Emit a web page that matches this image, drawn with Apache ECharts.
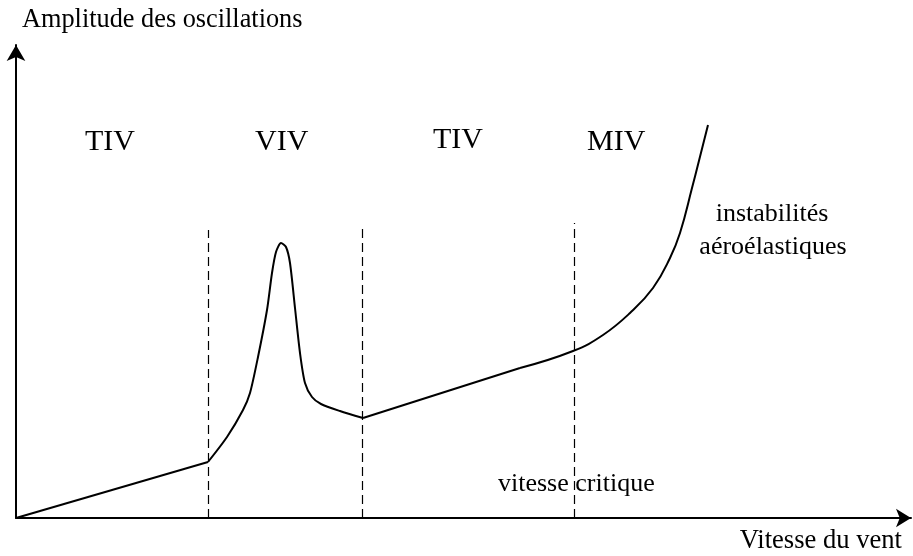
<!DOCTYPE html>
<html>
<head>
<meta charset="utf-8">
<script src="https://cdn.jsdelivr.net/npm/echarts@6/dist/echarts.min.js"></script>
<style>
    html, body { margin: 0; padding: 0; background: #fff; }
    #chart { width: 913px; height: 556px; }
</style>
</head>
<body>
<div id="chart"></div>
<script>
    // courbe (unites arbitraires)
    var segTIV1 = [[0, 0], [192, 56]];
    var segVIV = [[192, 56], [211, 81], [227, 108], [234, 125], [242, 161], [251, 208], [256, 245],
        [260, 266], [265, 275], [270, 271], [274, 255], [279, 210], [284, 165], [289, 135],
        [296, 121], [305, 114], [324, 107], [347, 100]];
    var segTIV2 = [[347, 100], [504, 150]];
    var segMIV = [[504, 150], [557, 167], [587, 183], [614, 205], [637, 230], [654, 260],
        [664, 285], [676, 330], [692, 393]];
    // lignes verticales pointillees
    var dashX = [192, 346, 558];
    var dashTop = [288, 290, 295];

    var font = 'Liberation Serif';
    var chart = echarts.init(document.getElementById('chart'));

    var lines = [];
    for (var i = 0; i < dashX.length; i++) {
        lines.push([{coord: [dashX[i], 0]}, {coord: [dashX[i], dashTop[i]]}]);
    }

    function seg(data, smooth) {
        return {
            type: 'line',
            data: data,
            smooth: smooth,
            symbol: 'none',
            lineStyle: {color: '#000', width: 2}
        };
    }

    var series = [seg(segTIV1, false), seg(segVIV, 0.25), seg(segTIV2, false), seg(segMIV, 0.45)];
    series[0].markLine = {
        silent: true,
        symbol: 'none',
        label: {show: false},
        lineStyle: {color: '#000', width: 1.2, type: [9, 5]},
        data: lines
    };

    function txt(x, y, s, size, align) {
        return {
            type: 'text', x: x, y: y,
            style: {
                text: s, fill: '#000', font: size + 'px "' + font + '"',
                textAlign: align || 'left', textVerticalAlign: 'bottom'
            }
        };
    }

    var option = {
        animation: false,
        grid: {left: 16, right: 2, top: 45, bottom: 38},
        xAxis: {
            type: 'value', min: 0, max: 895,
            axisLine: {show: true, lineStyle: {color: '#000', width: 2}, symbol: ['none', 'arrow'], symbolSize: [14, 15]},
            axisTick: {show: false}, axisLabel: {show: false}, splitLine: {show: false}
        },
        yAxis: {
            type: 'value', min: 0, max: 473,
            axisLine: {show: true, lineStyle: {color: '#000', width: 2}, symbol: ['none', 'arrow'], symbolSize: [14, 16]},
            axisTick: {show: false}, axisLabel: {show: false}, splitLine: {show: false}
        },
        series: series,
        graphic: [
            txt(22, 33, 'Amplitude des oscillations', 26.3),
            txt(902, 555, 'Vitesse du vent', 26.6, 'right'),
            txt(85, 157, 'TIV', 30),
            txt(255, 157, 'VIV', 30),
            txt(433, 155, 'TIV', 30),
            txt(587, 157, 'MIV', 30),
            txt(772, 227, 'instabilités', 26, 'center'),
            txt(773, 260, 'aéroélastiques', 26, 'center'),
            txt(498, 497, 'vitesse critique', 26)
        ]
    };
    chart.setOption(option);
</script>
</body>
</html>
